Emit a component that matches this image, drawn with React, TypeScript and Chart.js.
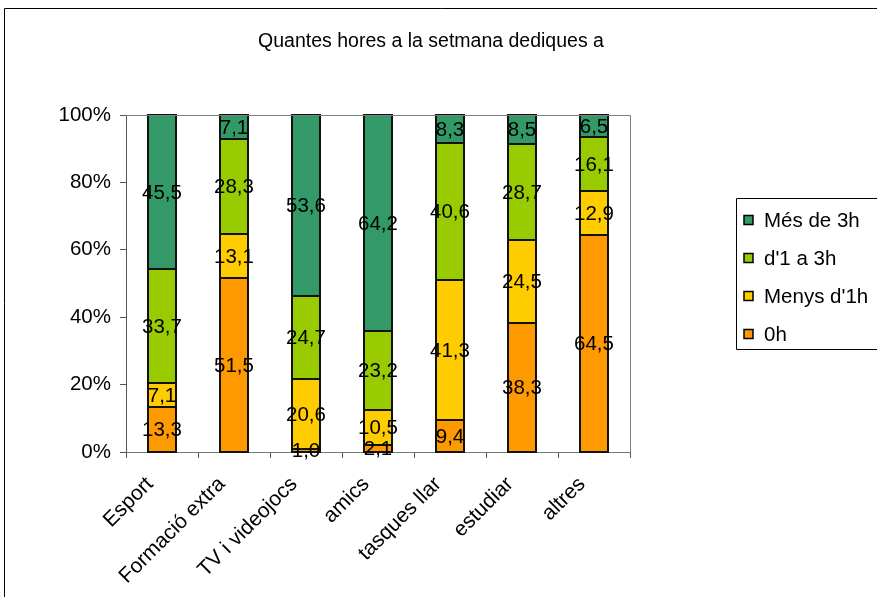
import React, { useEffect, useRef } from "react";
import { Chart, registerables } from "chart.js";

Chart.register(...registerables);

const categories = ["Esport", "Formació extra", "TV i videojocs", "amics", "tasques llar", "estudiar", "altres"];
const series0h = [13.3, 51.5, 1.0, 2.1, 9.4, 38.3, 64.5];
const seriesMenys = [7.1, 13.1, 20.6, 10.5, 41.3, 24.5, 12.9];
const series1a3 = [33.7, 28.3, 24.7, 23.2, 40.6, 28.7, 16.1];
const seriesMes = [45.5, 7.1, 53.6, 64.2, 8.3, 8.5, 6.5];
const seriesNames = ["0h", "Menys d'1h", "d'1 a 3h", "Més de 3h"];
const seriesColors = ["#FF9900", "#FFCC00", "#99CC00", "#339966"];
const yTicks = [0, 20, 40, 60, 80, 100];
const titleText = "Quantes hores a la setmana dediques a";

const FONT = "'Liberation Sans', Arial, sans-serif";

export default function App() {
  const ref = useRef<HTMLCanvasElement | null>(null);

  useEffect(() => {
    const raw = [series0h, seriesMenys, series1a3, seriesMes];
    const totals = categories.map((_, i) => raw.reduce((s, arr) => s + arr[i], 0));
    const datasets = raw.map((arr, k) => ({
      label: seriesNames[k],
      data: arr.map((v, i) => (v / totals[i]) * 100),
      rawValues: arr,
      backgroundColor: seriesColors[k],
      borderWidth: 0,
      categoryPercentage: 1,
      barPercentage: 0.4,
    }));

    const overlay = {
      id: "overlay",
      afterDatasetsDraw(chart: any) {
        const ctx = chart.ctx as CanvasRenderingContext2D;
        ctx.save();
        ctx.strokeStyle = "#111";
        ctx.lineWidth = 2;
        chart.data.datasets.forEach((_: any, di: number) => {
          const meta = chart.getDatasetMeta(di);
          meta.data.forEach((el: any) => {
            const l = Math.round(el.x - el.width / 2);
            const r = Math.round(el.x + el.width / 2);
            const t = Math.round(Math.min(el.y, el.base));
            const b = Math.round(Math.max(el.y, el.base));
            ctx.strokeRect(l, t, r - l, b - t);
          });
        });
        ctx.restore();
      },
      afterDraw(chart: any) {
        const ctx = chart.ctx as CanvasRenderingContext2D;
        const ca = chart.chartArea;
        ctx.save();
        // outer frame
        ctx.strokeStyle = "#000";
        ctx.lineWidth = 1;
        ctx.beginPath();
        ctx.moveTo(4.5, 600);
        ctx.lineTo(4.5, 8.5);
        ctx.lineTo(880, 8.5);
        ctx.stroke();
        // plot border top/right
        ctx.strokeStyle = "#808080";
        ctx.beginPath();
        ctx.moveTo(ca.left, ca.top + 0.5);
        ctx.lineTo(ca.right + 0.5, ca.top + 0.5);
        ctx.lineTo(ca.right + 0.5, ca.bottom);
        ctx.stroke();
        // title
        ctx.fillStyle = "#000";
        ctx.font = `19.5px ${FONT}`;
        ctx.textAlign = "center";
        ctx.textBaseline = "middle";
        ctx.fillText(titleText, 431, 42);
        // data labels
        ctx.font = `20.5px ${FONT}`;
        chart.data.datasets.forEach((ds: any, di: number) => {
          const meta = chart.getDatasetMeta(di);
          meta.data.forEach((el: any, i: number) => {
            const y = (el.y + el.base) / 2;
            const txt = ds.rawValues[i].toFixed(1).replace(".", ",");
            ctx.fillText(txt, el.x, y + 1);
          });
        });
        // legend
        ctx.strokeStyle = "#000";
        ctx.lineWidth = 1;
        ctx.beginPath();
        ctx.moveTo(880, 198.5);
        ctx.lineTo(736.5, 198.5);
        ctx.lineTo(736.5, 349.5);
        ctx.lineTo(880, 349.5);
        ctx.stroke();
        ctx.textAlign = "left";
        ctx.font = `20.5px ${FONT}`;
        const rowsY = [220, 258, 296, 334];
        for (let r = 0; r < 4; r++) {
          const k = 3 - r;
          const cy = rowsY[r];
          ctx.fillStyle = seriesColors[k];
          ctx.fillRect(744, cy - 4.5, 9, 9);
          ctx.strokeStyle = "#000";
          ctx.lineWidth = 1.5;
          ctx.strokeRect(744, cy - 4.5, 9, 9);
          ctx.fillStyle = "#000";
          ctx.fillText(seriesNames[k], 764, cy + 1);
        }
        ctx.restore();
      },
    };

    const chart = new Chart(ref.current as HTMLCanvasElement, {
      type: "bar",
      data: { labels: categories, datasets: datasets as any },
      options: {
        animation: false,
        responsive: false,
        layout: { padding: { left: 0, top: 115, right: 247, bottom: 0 } },
        plugins: { legend: { display: false }, tooltip: { enabled: false }, title: { display: false } },
        scales: {
          x: {
            stacked: true,
            afterFit: (s: any) => { s.height = 145; },
            ticks: { minRotation: 45, maxRotation: 45, color: "#000", font: { size: 21, family: FONT }, padding: 14, labelOffset: -12 },
            grid: { drawOnChartArea: false, tickLength: 6, color: "#555", offset: true },
            border: { color: "#777" },
          },
          y: {
            stacked: true,
            min: 0,
            max: 100,
            afterFit: (s: any) => { s.width = 126; },
            afterBuildTicks: (s: any) => { s.ticks = yTicks.map((v) => ({ value: v })); },
            ticks: { color: "#000", font: { size: 20.5, family: FONT }, padding: 9, callback: (v: any) => v + "%" },
            grid: { drawOnChartArea: false, tickLength: 6, color: "#555" },
            border: { color: "#555" },
          },
        },
      },
      plugins: [overlay],
    });
    return () => chart.destroy();
  }, []);

  return (
    <canvas
      ref={ref}
      width={877}
      height={597}
      style={{ position: "absolute", left: 0, top: 0, width: 877, height: 597, background: "#fff" }}
    />
  );
}
